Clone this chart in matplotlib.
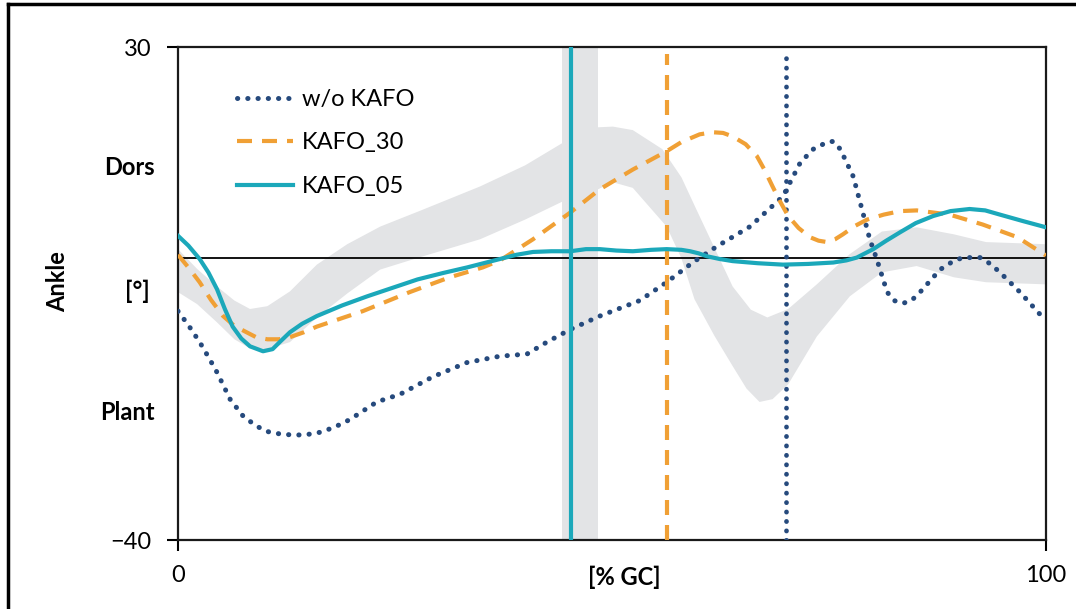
import numpy as np
import matplotlib
matplotlib.use("Agg")
import matplotlib.pyplot as plt
from matplotlib.lines import Line2D

plt.rcParams["font.family"] = ["Lato", "DejaVu Sans"]

# gait cycle curves, ankle angle [deg] over % gait cycle
wo_x = [0, 1.2, 2.5, 3.5, 4.5, 6.0, 7.5, 9.0, 10.3, 12.0, 13.7, 15.0, 16.4, 18.0, 19.8, 22.9,
        25.6, 29.4, 33.3, 37.1, 40.2, 42.5, 45.2, 48.6, 53.2, 56.3, 59.3, 62.1, 65.9, 69.7,
        71.7, 73.2, 74.8, 75.5, 76.3, 77.8, 78.9, 79.7, 80.5, 81.7, 82.5, 83.5, 84.5, 85.5,
        87.8, 89.2, 90.4, 92.4, 93.6, 94.7, 97.0, 100]
wo_y = [-7.5, -9.5, -11.9, -14.0, -16.2, -20.0, -22.4, -23.8, -24.6, -25.0, -25.1, -25.0,
        -24.7, -24.0, -22.9, -20.4, -19.3, -16.8, -14.8, -13.9, -13.6, -11.9, -10.1, -8.2,
        -6.0, -3.4, -0.6, 1.7, 4.5, 8.8, 13.6, 15.5, 16.5, 16.6, 15.5, 11.6, 6.5, 2.7, -0.1,
        -4.8, -6.0, -6.4, -6.0, -4.8, -1.6, -0.5, 0.1, 0.1, -0.8, -2.0, -4.8, -8.9]

k30_x = [0, 1.2, 2.5, 3.8, 5.2, 6.5, 7.9, 9.0, 10.3, 11.6, 12.9, 14.5, 16.0, 21.3, 26.7, 31.3,
         35.1, 37.1, 40.9, 45.2, 48.6, 52.4, 56.3, 58.0, 60.1, 61.6, 62.8, 63.9, 65.4, 66.7,
         67.6, 68.5, 69.4, 70.3, 71.5, 72.8, 73.8, 74.8, 75.7, 76.6, 78.0, 79.4, 81.3, 83.2,
         85.1, 88.9, 92.7, 96.7, 100]
k30_y = [0.5, -1.3, -3.4, -5.9, -8.2, -9.6, -10.5, -11.2, -11.5, -11.5, -11.2, -10.5, -9.7,
         -7.5, -4.8, -2.7, -1.3, -0.3, 2.7, 6.5, 9.8, 12.6, 15.2, 16.5, 17.6, 17.9, 17.8, 17.3,
         16.2, 14.5, 12.5, 10.2, 8.0, 6.0, 4.3, 3.0, 2.5, 2.3, 2.7, 3.4, 4.6, 5.5, 6.2, 6.7,
         6.8, 6.2, 4.8, 3.0, 0.4]

k05_x = [0, 1.2, 2.5, 3.5, 4.5, 5.4, 6.3, 7.3, 8.3, 9.8, 10.9, 11.8, 12.9, 14.3, 16.0, 18.9,
         21.8, 24.7, 27.6, 30.5, 33.3, 35.2, 37.1, 39.0, 40.9, 43.0, 45.2, 47.0, 48.6, 50.5,
         52.4, 54.5, 56.3, 58.0, 59.0, 60.0, 60.9, 62.4, 63.9, 66.8, 69.7, 72.6, 75.5, 77.0,
         78.2, 80.1, 81.6, 83.2, 85.0, 87.0, 89.0, 91.2, 93.0, 94.7, 97.3, 100]
k05_y = [3.2, 1.8, -0.1, -2.0, -4.4, -7.2, -9.7, -11.4, -12.5, -13.2, -12.9, -11.8, -10.5,
         -9.3, -8.2, -6.7, -5.4, -4.2, -3.0, -2.1, -1.3, -0.7, -0.1, 0.5, 0.9, 1.0, 1.0, 1.3,
         1.3, 1.1, 1.0, 1.2, 1.3, 1.2, 1.0, 0.7, 0.3, -0.1, -0.4, -0.7, -0.9, -0.8, -0.6, -0.3,
         0.1, 1.3, 2.5, 3.7, 5.0, 6.0, 6.7, 7.0, 6.8, 6.2, 5.3, 4.4]

# normal range (mean +/- SD)
norm_up_x = [0, 2.2, 4.5, 6.5, 8.3, 10.3, 12.9, 16.0, 19.5, 23.3, 28.0, 34.8, 40.0, 44.2,
             48.4, 50.1, 52.4, 55.8, 58.0, 59.7, 61.8, 63.9, 66.0, 67.9, 70.3, 73.6, 77.4,
             81.1, 85.1, 89.4, 93.1, 100]
norm_up_y = [1.3, -1.5, -4.0, -6.0, -7.2, -6.8, -4.7, -0.9, 2.0, 4.5, 6.8, 10.2, 13.2, 16.3,
             18.6, 18.7, 18.2, 15.5, 11.5, 7.0, 1.5, -4.0, -7.3, -8.4, -7.2, -3.7, 0.6, 3.8,
             4.4, 3.4, 2.3, 2.0]
norm_lo_x = [0, 2.2, 4.5, 6.5, 8.3, 10.3, 12.9, 16.0, 19.5, 23.3, 28.0, 34.8, 40.0, 44.2,
             48.4, 50.1, 52.4, 56.3, 58.0, 59.5, 61.8, 63.9, 65.5, 67.0, 68.5, 70.3, 73.6,
             77.4, 81.1, 85.1, 89.4, 93.1, 100]
norm_lo_y = [-4.8, -6.5, -9.1, -11.5, -12.8, -12.9, -11.9, -8.4, -5.0, -1.6, 0.2, 2.7, 5.5,
             8.0, 9.8, 10.8, 10.0, 4.5, 0.0, -5.8, -11.0, -15.3, -18.5, -20.4, -20.0, -17.9,
             -11.1, -5.4, -2.0, -1.1, -2.7, -3.4, -3.7]

# toe off events [% GC]
toe_off_norm = (44.2, 48.4)
toe_off_wo = 70.0
toe_off_k30 = 56.3
toe_off_k05 = 45.3

c_wo = "#264a7d"
c_30 = "#f0a035"
c_05 = "#1ba8ba"
c_band = "#e3e4e6"
dots = (0, (0.05, 2.0))
dashes = (0, (3.6, 2.4))

fig = plt.figure(figsize=(10.76, 6.09), dpi=100)
ax = fig.add_axes([0.1654, 0.1133, 0.8067, 0.8095])

ax.fill(np.r_[norm_up_x, norm_lo_x[::-1]], np.r_[norm_up_y, norm_lo_y[::-1]],
        color=c_band, lw=0, zorder=1)
ax.axvspan(*toe_off_norm, color=c_band, lw=0, zorder=1)
ax.axhline(0, color="black", lw=1.3, zorder=2)

ax.plot(wo_x, wo_y, color=c_wo, lw=3.6, linestyle=dots, dash_capstyle="round",
        label="w/o KAFO", zorder=3)
ax.plot(k30_x, k30_y, color=c_30, lw=3.0, linestyle=dashes, label="KAFO_30", zorder=4)
ax.plot(k05_x, k05_y, color=c_05, lw=3.0, label="KAFO_05", zorder=5)

ax.axvline(toe_off_wo, ymax=0.985, color=c_wo, lw=3.4, linestyle=(0, (0.05, 1.95)),
           dash_capstyle="round", zorder=3)
ax.axvline(toe_off_k30, ymax=0.985, color=c_30, lw=3.0, linestyle=dashes, zorder=4)
ax.axvline(toe_off_k05, color=c_05, lw=3.0, zorder=5)

ax.set_xlim(0, 100)
ax.set_ylim(-40, 30)
ax.set_xticks([0, 100])
ax.set_yticks([-40, 30])
ax.tick_params(direction="out", length=8, width=1.5, labelsize=17)
ax.tick_params(axis="x", pad=10)
ax.tick_params(axis="y", pad=11)
for s in ax.spines.values():
    s.set_linewidth(1.6)
    s.set_color("#1a1a1a")

fs = 17
trans = ax.get_yaxis_transform()
ax.text(-0.027, 12.9, "Dors", transform=trans, ha="right", va="center",
        fontsize=fs, fontweight="bold")
ax.text(-0.032, -4.7, "[°]", transform=trans, ha="right", va="center",
        fontsize=fs, fontweight="bold")
ax.text(-0.027, -21.9, "Plant", transform=trans, ha="right", va="center",
        fontsize=fs, fontweight="bold")
fig.text(58 / 1076, 1 - 282 / 609, "Ankle", rotation=90, ha="center", va="center",
         fontsize=fs, fontweight="bold")
fig.text(624 / 1076, 1 - 577 / 609, "[% GC]", ha="center", va="center",
         fontsize=fs, fontweight="bold")

ax.legend(loc="upper left", bbox_to_anchor=(0.043, 0.958), frameon=False, fontsize=fs,
          handlelength=2.4, handletextpad=0.38, labelspacing=0.95)

# outer frame
fig.add_artist(Line2D([0.0075, 1.0], [0.994, 0.994], color="black", lw=2.5))
fig.add_artist(Line2D([0.0075, 0.0075], [0.0, 0.994], color="black", lw=2.5))

fig.savefig("out.png", dpi=100)
